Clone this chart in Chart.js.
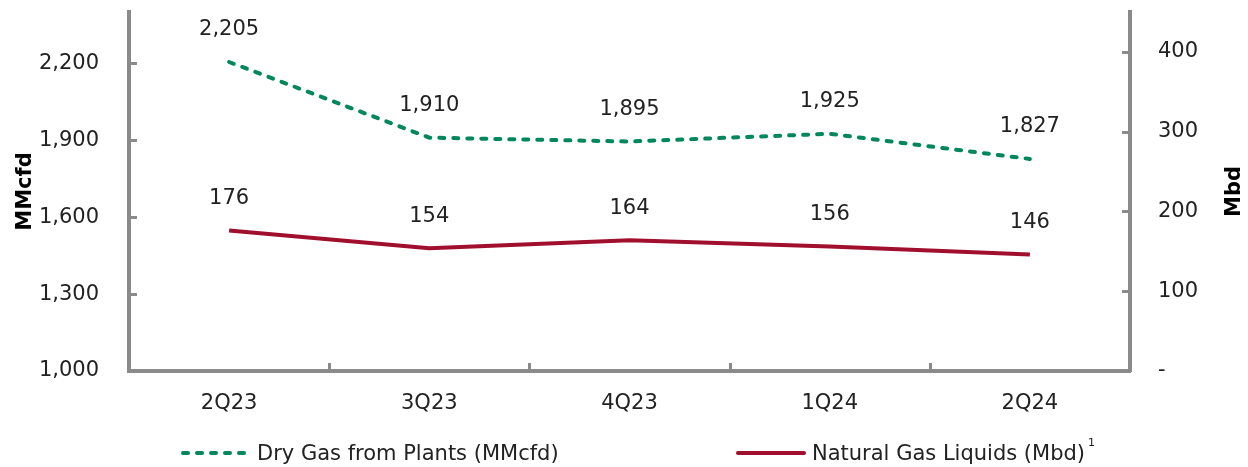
<!DOCTYPE html>
<html><head><meta charset="utf-8">
<script src="https://cdn.jsdelivr.net/npm/chart.js@4/dist/chart.umd.min.js"></script>
<style>
html,body{margin:0;padding:0;background:#fff;}
#wrap{position:relative;width:1248px;height:467px;overflow:hidden}
canvas{position:absolute;left:0;top:0;}
.leg{position:absolute;top:440px;height:26px;display:flex;align-items:center;font:21px "DejaVu Sans";color:#222;white-space:nowrap}
.leg sup{font-size:11px;position:relative;top:-6px;margin-left:3px}
</style></head>
<body><div id="wrap"><canvas id="c" width="1248" height="467"></canvas></div>
<script>
const categories = ['2Q23','3Q23','4Q23','1Q24','2Q24'];
const dryGas = [2205, 1910, 1895, 1925, 1827];
const ngl = [176, 154, 164, 156, 146];
const leftTickValues = [1000, 1300, 1600, 1900, 2200];
const rightTickValues = [0, 100, 200, 300, 400];
const leftRange = [1000, 2400];
const rightRange = [0, 450];
const seriesNames = ['Dry Gas from Plants (MMcfd)', 'Natural Gas Liquids (Mbd)'];
const seriesColors = ['#00875a', '#a00f2e'];

const FONT = 'DejaVu Sans';
const FS = 21;
const AXIS = '#8a8a8a';
const TXT = '#222';
const fmt = v => Number(v).toLocaleString('en-US');

const tickMarks = {
  id: 'tickMarks',
  afterDraw(chart) {
    const {ctx, chartArea: a, scales} = chart;
    ctx.save();
    ctx.strokeStyle = AXIS; ctx.lineWidth = 3;
    scales.y.ticks.forEach(t => {
      if (t.value === leftRange[0]) return;
      const y = Math.round(scales.y.getPixelForValue(t.value)) + 0.5;
      ctx.beginPath(); ctx.moveTo(a.left, y); ctx.lineTo(a.left + 8, y); ctx.stroke();
    });
    scales.y1.ticks.forEach(t => {
      if (t.value === rightRange[0]) return;
      const y = Math.round(scales.y1.getPixelForValue(t.value)) + 0.5;
      ctx.beginPath(); ctx.moveTo(a.right, y); ctx.lineTo(a.right - 8, y); ctx.stroke();
    });
    const xs = scales.x;
    for (let i = 1; i < categories.length; i++) {
      const x = Math.round((xs.getPixelForTick(i - 1) + xs.getPixelForTick(i)) / 2) + 0.5;
      ctx.beginPath(); ctx.moveTo(x, a.bottom); ctx.lineTo(x, a.bottom - 8); ctx.stroke();
    }
    ctx.fillStyle = '#000';
    ctx.font = 'bold 21px "' + FONT + '"';
    ctx.textAlign = 'center'; ctx.textBaseline = 'middle';
    ctx.translate(1235, (a.top + a.bottom) / 2);
    ctx.rotate(-Math.PI / 2);
    ctx.fillText('Mbd', 0, 0);
    ctx.restore();
  }
};

const dataLabels = {
  id: 'dataLabels',
  afterDatasetsDraw(chart) {
    const {ctx} = chart;
    ctx.save();
    ctx.font = FS + 'px "' + FONT + '"';
    ctx.fillStyle = TXT;
    ctx.textAlign = 'center'; ctx.textBaseline = 'middle';
    chart.data.datasets.forEach((ds, di) => {
      chart.getDatasetMeta(di).data.forEach((pt, i) => {
        ctx.fillText(fmt(ds.data[i]), pt.x, pt.y - 32);
      });
    });
    ctx.restore();
  }
};

new Chart(document.getElementById('c'), {
  type: 'line',
  data: {
    labels: categories,
    datasets: [
      {label: seriesNames[0], data: dryGas, yAxisID: 'y', borderColor: seriesColors[0], backgroundColor: seriesColors[0],
       borderWidth: 4, borderDash: [5, 9], borderCapStyle: 'round', pointRadius: 0, tension: 0},
      {label: seriesNames[1], data: ngl, yAxisID: 'y1', borderColor: seriesColors[1], backgroundColor: seriesColors[1],
       borderWidth: 4, pointRadius: 0, tension: 0}
    ]
  },
  options: {
    responsive: false, animation: false, devicePixelRatio: 1,
    layout: {padding: {top: 12, bottom: 36, left: 0, right: 0}},
    plugins: {legend: {display: false}, tooltip: {enabled: false}},
    scales: {
      x: {
        offset: true,
        grid: {display: false, drawTicks: false},
        border: {display: true, color: AXIS, width: 4},
        ticks: {font: {family: FONT, size: FS}, color: TXT, padding: 20, maxRotation: 0},
        afterFit: s => { s.height = 60; }
      },
      y: {
        position: 'left', min: leftRange[0], max: leftRange[1],
        grid: {display: false, drawTicks: false},
        border: {display: true, color: AXIS, width: 4},
        ticks: {font: {family: FONT, size: FS}, color: TXT, padding: 30, callback: v => fmt(v)},
        afterBuildTicks: s => { s.ticks = leftTickValues.map(v => ({value: v})); },
        title: {display: true, text: 'MMcfd', color: '#000', font: {family: FONT, size: FS, weight: 'bold'}, padding: {top: 13, bottom: 0}},
        afterFit: s => { s.width = 129; s.paddingTop = 0; s.paddingBottom = 0; }
      },
      y1: {
        position: 'right', min: rightRange[0], max: rightRange[1],
        grid: {display: false, drawTicks: false},
        border: {display: true, color: AXIS, width: 4},
        ticks: {font: {family: FONT, size: FS}, color: TXT, padding: 28, callback: v => v === 0 ? '-' : fmt(v)},
        afterBuildTicks: s => { s.ticks = rightTickValues.map(v => ({value: v})); },
        afterFit: s => { s.width = 118; s.paddingTop = 0; s.paddingBottom = 0; }
      }
    }
  },
  plugins: [tickMarks, dataLabels]
});

const legendPos = [{line: 183, text: 260}, {line: 738, text: 815}];
seriesNames.forEach((name, i) => {
  const d = document.createElement('div');
  d.className = 'leg';
  d.style.left = (legendPos[i].line - 3) + 'px';
  const dash = i === 0 ? ' stroke-dasharray="5 9"' : '';
  const w = legendPos[i].text - legendPos[i].line;
  d.innerHTML = '<svg width="' + (w) + '" height="8"><line x1="3" y1="4" x2="' + (w - 8) + '" y2="4" stroke="' + seriesColors[i] +
    '" stroke-width="4" stroke-linecap="round"' + dash + '/></svg><span>' + name + (i === 1 ? '<sup>1</sup>' : '') + '</span>';
  document.getElementById('wrap').appendChild(d);
});
</script>
</body></html>
